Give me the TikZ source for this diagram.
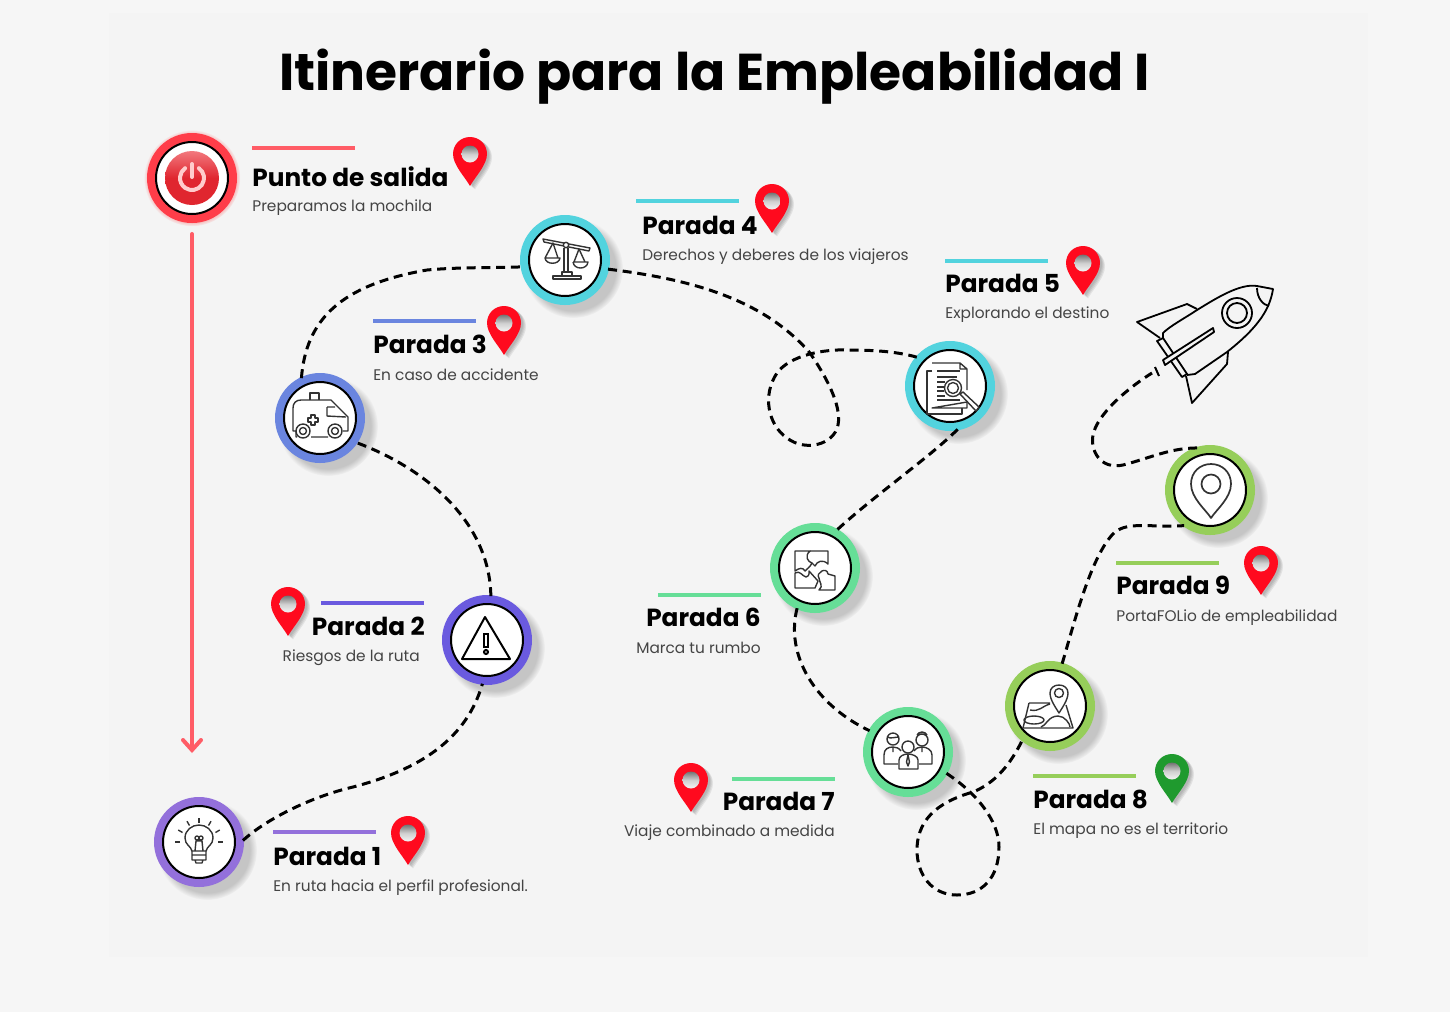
\documentclass[tikz,border=0pt]{standalone}
\usepackage{fontspec}
\setmainfont{Poppins}
\usetikzlibrary{arrows.meta,shadows}
\definecolor{panelgrey}{HTML}{F4F4F4}
\definecolor{pagegrey}{HTML}{F6F6F6}
\definecolor{startred}{HTML}{FF3D49}
\definecolor{arrowred}{HTML}{FF5C66}
\definecolor{discred}{HTML}{E0262F}
\definecolor{disclight}{HTML}{F2787E}
\definecolor{lilac}{HTML}{9370DB}
\definecolor{violet}{HTML}{6A5ADF}
\definecolor{steel}{HTML}{6A85DF}
\definecolor{turq}{HTML}{52D3DE}
\definecolor{mint}{HTML}{66DE97}
\definecolor{leaf}{HTML}{96CE5A}
\definecolor{pinred}{HTML}{FF0A1E}
\definecolor{pingreen}{HTML}{1F9A2E}
\definecolor{greytext}{HTML}{444444}
\definecolor{iconline}{HTML}{333333}
\tikzset{
  stopring/.style={
    circle,draw=black,line width=0.04cm,fill=white,
    minimum size=1.44cm,inner sep=0pt,outer sep=0.16cm,
    circular drop shadow={shadow xshift=0.12cm,shadow yshift=-0.12cm,shadow scale=1.38,opacity=0.4},
    preaction={draw=#1,line width=0.36cm}
  },
  startring/.style={
    circle,draw=black,line width=0.04cm,fill=white,
    minimum size=1.44cm,inner sep=0pt,outer sep=0.16cm,
    circular drop shadow={shadow xshift=0cm,shadow yshift=0cm,shadow scale=1.34,opacity=0.4,fill=red},
    preaction={draw=startred,line width=0.36cm}
  },
  route/.style={draw=black,line width=0.06cm,dash pattern=on 0.18cm off 0.115cm},
  stopbar/.style={draw=#1,line width=0.09cm},
  titletext/.style={font=\fontsize{29.5}{36}\selectfont\bfseries,inner sep=0pt,anchor=base},
  headtext/.style={font=\fontsize{14.1}{17}\selectfont\bfseries,inner sep=0pt},
  desctext/.style={font=\fontsize{8.75}{10}\selectfont,text=greytext,inner sep=0pt},
  icon/.style={draw=iconline,line width=0.028cm,line join=round},
  rocketline/.style={draw=black,line width=0.036cm,line join=round},
  pics/pin/.style={code={
    \foreach \s in {2,3,4,5}
      \fill[black,opacity=0.07,shift={(\s,\s*0.7)}] (0,0) .. controls (-5,-9) and (-17,-21) .. (-17,-32) .. controls (-17,-41.5) and (-9.5,-49) .. (0,-49) .. controls (9.5,-49) and (17,-41.5) .. (17,-32) .. controls (17,-21) and (5,-9) .. (0,0) -- cycle;
    \fill[#1] (0,0) .. controls (-5,-9) and (-17,-21) .. (-17,-32) .. controls (-17,-41.5) and (-9.5,-49) .. (0,-49) .. controls (9.5,-49) and (17,-41.5) .. (17,-32) .. controls (17,-21) and (5,-9) .. (0,0) -- cycle;
    \shade[top color=black!55,bottom color=panelgrey,middle color=panelgrey!85!black] (0,-32) circle[radius=8.5];
  }},
  pics/bulbicon/.style={code={
    \draw[icon] (-7,9) .. controls (-8,4) and (-14,3) .. (-14,-4) .. controls (-14,-12) and (-7,-17) .. (0,-17) .. controls (7,-17) and (14,-12) .. (14,-4) .. controls (14,3) and (8,4) .. (7,9) -- cycle;
    \draw[icon] (-7,9) -- (-7,18) -- (7,18) -- (7,9) (-7,13) -- (7,13) (-4,18) -- (-3,21) -- (3,21) -- (4,18);
    \draw[icon] (-4,9) -- (-3,-1) -- (3,-1) -- (4,9) (-2,-4) circle[radius=2] (2,-4) circle[radius=2];
    \foreach \a in {-90,-60,-120,-30,-150,0,180}
      \draw[icon] (\a:19) -- (\a:24);
  }},
  pics/warnicon/.style={code={
    \draw[draw=black,line width=0.04cm,line join=round] (-2,-23) -- (-25,19) -- (23,19) -- cycle;
    \draw[draw=black,line width=0.04cm] (-3,-6) rectangle (1,7);
    \draw[draw=black,line width=0.04cm] (-1,12) circle[radius=2];
  }},
  pics/ambulanceicon/.style={code={
    \draw[icon] (-10,-18) -- (-10,-25) -- (-1,-25) -- (-1,-18);
    \draw[icon] (-24,13) -- (-27,13) -- (-27,-10) .. controls (-27,-15) and (-24,-18) .. (-19,-18) -- (11,-18) -- (28,-1) -- (28,13) -- (23,13) (-9,19) -- (8,19);
    \draw[icon] (-24,13) -- (-24,19) -- (-23,19) (7,-11) -- (7,-2) -- (26,-1) (7,-11) -- (15,-11);
    \draw[icon] (-17,13) circle[radius=7] (-17,13) circle[radius=3.5] (15,13) circle[radius=7] (15,13) circle[radius=3.5];
    \draw[icon] (-9,-3) -- (-5,-3) -- (-5,0) -- (-2,0) -- (-2,4) -- (-5,4) -- (-5,7) -- (-9,7) -- (-9,4) -- (-12,4) -- (-12,0) -- (-9,0) -- cycle;
  }},
  pics/scalesicon/.style={code={
    \draw[icon] (-22,-21) -- (25,-12) -- (24,-9) -- (-21,-18) -- cycle;
    \draw[icon,fill=white] (1,-15) circle[radius=2.7];
    \draw[icon] (-1,-12) -- (-1,12) (3,-12) -- (3,12) (-3,16) -- (-3,12) -- (7,12) -- (7,16);
    \draw[icon] (-12,16) rectangle (16,19);
    \draw[icon] (-20,-2) -- (-12,-17) -- (-7,-2) (-20,-2) -- (-5,-2) .. controls (-6,5) and (-19,5) .. (-20,-2);
    \draw[icon] (9,2) -- (14,-11) -- (20,2) (8,2) -- (23,2) .. controls (22,10) and (9,10) .. (8,2);
  }},
  pics/docicon/.style={code={
    \draw[icon] (-18,-15) -- (-23,-15) -- (-23,28) -- (12,28) -- (12,22);
    \draw[icon] (-18,-23) -- (10,-23) -- (17,-17) -- (17,4) (17,16) -- (17,22) -- (-18,22) -- cycle (10,-23) -- (10,-17) -- (17,-17);
    \draw[icon] (-13,-15) -- (10,-15) (-13,-9) -- (7,-9) (-13,-4) -- (-5,-4) (-13,1) -- (-6,1) (-13,5) -- (-6,5) (-13,10) -- (-5,10) (-13,14) -- (10,14);
    \draw[icon] (3,2) circle[radius=8.5] (3,2) circle[radius=5.5];
    \draw[icon,fill=white] (10,8) -- (13,6) -- (29,21) -- (26,25) -- cycle;
  }},
  pics/puzzleicon/.style={code={
    \draw[icon] (-20,-17) -- (-5,-17) .. controls (-11,-12) and (-7,-6) .. (-3,-5) .. controls (-5,-1) and (-8,1) .. (-10,3) .. controls (-12,-1) and (-16,0) .. (-20,3) -- cycle;
    \draw[icon] (-5,-17) -- (13,-17) -- (13,-4) .. controls (8,-9) and (2,-7) .. (0,-2) .. controls (-1,-3) and (-2,-4) .. (-3,-5);
    \draw[icon] (-20,5) .. controls (-15,2) and (-13,8) .. (-9,9) .. controls (-5,8) and (-6,4) .. (-6,3) -- (3,13) -- (0,20) -- (-20,20) -- cycle;
    \draw[icon] (4,10) .. controls (0,5) and (12,-2) .. (13,6) -- (20,8) -- (20,22) -- (4,22) .. controls (9,18) and (4,14) .. (4,10) -- cycle;
  }},
  pics/peopleicon/.style={code={
    \draw[icon] (-15,-13) circle[radius=6] (-21,-15) .. controls (-17,-13) and (-13,-15) .. (-9,-15);
    \draw[icon] (-10,12) -- (-24,12) -- (-24,3) .. controls (-24,-3) and (-20,-5) .. (-15,-5) .. controls (-12,-5) and (-9,-4) .. (-7,-1) (-15,-5) -- (-15,0);
    \draw[icon] (14,-12) circle[radius=6] (9,-17) .. controls (11,-21) and (17,-21) .. (19,-17);
    \draw[icon] (11,12) -- (24,12) -- (24,3) .. controls (24,-2) and (19,-5) .. (14,-5) .. controls (11,-5) and (8,-4) .. (6,-1) (14,-5) -- (14,0);
    \draw[icon] (0,-5) circle[radius=6];
    \draw[icon] (-9,17) -- (-9,8) .. controls (-9,4) and (-4,2) .. (0,2) .. controls (4,2) and (10,4) .. (10,8) -- (10,17) -- cycle;
    \draw[icon] (0,3) -- (-1.5,10) -- (0,14) -- (1.5,10) -- cycle;
  }},
  pics/mapicon/.style={code={
    \draw[icon] (-21,-3) -- (-27,22) -- (23,22) -- (16,-1);
    \draw[icon] (-21,-3) -- (0,-3) (-20,4) .. controls (-10,6) and (-8,0) .. (0,-2);
    \draw[icon] (-16,14) ellipse[x radius=10,y radius=4];
    \draw[icon] (-9,21) .. controls (-4,20) and (-2,10) .. (8,10) .. controls (15,10) and (20,18) .. (20,21);
    \draw[icon,fill=white] (9,7) .. controls (6,2) and (0,-6) .. (0,-13) .. controls (0,-18) and (4,-21) .. (9,-21) .. controls (14,-21) and (18,-18) .. (18,-13) .. controls (18,-6) and (12,2) .. (9,7) -- cycle;
    \draw[icon] (9,-13) circle[radius=4.5];
  }},
  pics/locationicon/.style={code={
    \draw[icon,line width=0.034cm] (1,28) .. controls (-4,20) and (-19,8) .. (-19,-6) .. controls (-19,-18) and (-10,-26) .. (1,-26) .. controls (12,-26) and (21,-18) .. (21,-6) .. controls (21,8) and (6,20) .. (1,28) -- cycle;
    \draw[icon,line width=0.034cm] (1,-6) circle[radius=9.5];
  }},
  pics/powericon/.style={code={
    \shade[top color=disclight,bottom color=discred,middle color=discred] (0,0) circle[radius=27];
    \draw[draw=white!80!red,line width=0.08cm,line cap=round] (-55:12) arc[start angle=-55,end angle=235,radius=12];
    \draw[draw=white!80!red,line width=0.08cm,line cap=round] (0,-14) -- (0,-1);
  }},
  pics/rocketicon/.style={code={
    \draw[rocketline] (-13,-37) -- (-23,-42) -- (-73,-24) -- (-50,-8);
    \draw[rocketline] (-47,-8) -- (-47,-13) .. controls (-40,-20) and (-25,-28) .. (-13,-36) .. controls (5,-47) and (30,-63) .. (47,-60) -- (63,-57) .. controls (60,-38) and (50,-20) .. (17,6) -- (-15,28) -- (-23,29);
    \draw[rocketline] (-53,-5) -- (-47,-8) -- (-23,28) -- (-28,31) -- cycle;
    \draw[rocketline,fill=panelgrey] (-47,14) -- (3,-18) -- (4,-14) -- (-45,19) -- cycle;
    \draw[rocketline] (18,6) -- (17,18) -- (-18,57) -- (-24,30);
    \draw[rocketline] (47,-58) .. controls (47,-48) and (53,-41) .. (59,-40);
    \draw[rocketline] (27,-33) circle[radius=15] (27,-33) circle[radius=10];
  }}
}
\begin{document}
\begin{tikzpicture}[x=0.02cm,y=-0.02cm]
\useasboundingbox (0,0) rectangle (1450,1012);
\fill[pagegrey] (0,0) rectangle (1450,1012);
\fill[panelgrey] (109,13) rectangle (1368,957);
\node[titletext] (title) at (714.5,90) {Itinerario para la Empleabilidad I};

% stops on the road
\node[startring] (start) at (192,178) {};
\node[stopring=lilac] (stopa) at (199,842) {};
\node[stopring=violet] (stopb) at (487,640) {};
\node[stopring=steel] (stopc) at (320,418) {};
\node[stopring=turq] (stopd) at (565,260) {};
\node[stopring=turq] (stope) at (950,386) {};
\node[stopring=mint] (stopf) at (815,568) {};
\node[stopring=mint] (stopg) at (908,752) {};
\node[stopring=leaf] (stoph) at (1050,706) {};
\node[stopring=leaf] (stopi) at (1210,490) {};

% icons
\pic at (start) {powericon};
\pic at (stopa) {bulbicon};
\pic at (stopb) {warnicon};
\pic at (stopc) {ambulanceicon};
\pic at (stopd) {scalesicon};
\pic at (stope) {docicon};
\pic at (stopf) {puzzleicon};
\pic at (stopg) {peopleicon};
\pic at (stoph) {mapicon};
\pic at (stopi) {locationicon};
\pic at (1210,346) {rocketicon};
\coordinate (rockettail) at (1152,373);
\coordinate (arrowend) at (192,753);

% road
\draw[arrowred,line width=0.08cm,line cap=round,shorten <=0.24cm,-{Straight Barb[length=0.2cm,width=0.36cm,line cap=round]}] (start.south) -- (arrowend);
\draw[route] (stopa.2) .. controls (265,820) and (310,797) .. (353,787) .. controls (410,772) and (465,745) .. (stopb.-96);
\draw[route] (stopb.85) .. controls (490,525) and (430,470) .. (stopc.-34);
\draw[route] (stopc.115) .. controls (306,320) and (340,285) .. (427,270) .. controls (460,267) and (490,268) .. (stopd.189);
\draw[route] (stopd.-12) .. controls (680,278) and (760,295) .. (810,353) .. controls (825,375) and (842,405) .. (838,425) .. controls (834,445) and (805,452) .. (787,438) .. controls (768,425) and (762,395) .. (777,373) .. controls (790,355) and (825,349) .. (847,350) .. controls (870,350) and (895,351) .. (stope.139);
\draw[route] (stope.-80) .. controls (930,457) and (875,495) .. (stopf.60);
\draw[route] (stopf.-114) .. controls (785,655) and (815,705) .. (stopg.151);
\draw[route] (stopg.-29) .. controls (975,792) and (999,820) .. (999,847) .. controls (999,878) and (982,895) .. (957,895) .. controls (932,895) and (917,875) .. (917,850) .. controls (917,815) and (945,800) .. (973,792) .. controls (995,783) and (1010,765) .. (stoph.-129);
\draw[route] (stoph.74) .. controls (1075,620) and (1090,560) .. (1112,535) .. controls (1125,520) and (1150,528) .. (stopi.-126);
\draw[route] (stopi.107) .. controls (1170,448) and (1150,458) .. (1123,465) .. controls (1100,470) and (1090,450) .. (1093,435) .. controls (1097,415) and (1125,390) .. (rockettail);
\draw[black,line width=0.04cm] (1155,367) -- (1159,376);

% bars
\draw[stopbar=arrowred] (252,148) -- ++(103,0);
\draw[stopbar=lilac] (273,832) -- ++(103,0);
\draw[stopbar=violet] (321,603) -- ++(103,0);
\draw[stopbar=steel] (373,321) -- ++(103,0);
\draw[stopbar=turq] (636,201) -- ++(103,0);
\draw[stopbar=turq] (945,261) -- ++(103,0);
\draw[stopbar=mint] (658,595) -- ++(103,0);
\draw[stopbar=mint] (732,779) -- ++(103,0);
\draw[stopbar=leaf] (1033,776) -- ++(103,0);
\draw[stopbar=leaf] (1116,563) -- ++(103,0);

% pins
\pic at (470,186) {pin=pinred};
\pic at (408,865) {pin=pinred};
\pic at (288,636) {pin=pinred};
\pic at (504,355) {pin=pinred};
\pic at (772,233) {pin=pinred};
\pic at (1083,295) {pin=pinred};
\pic at (691,812) {pin=pinred};
\pic at (1172,803) {pin=pingreen};
\pic at (1261,595) {pin=pinred};

% texts
\node[headtext,anchor=base west] (heads) at (252,186) {Punto de salida};
\node[desctext,anchor=base west] (descs) at (252,211) {Preparamos la mochila};
\node[headtext,anchor=base west] (heada) at (273,865) {Parada 1};
\node[desctext,anchor=base west] (desca) at (273,891) {En ruta hacia el perfil profesional.};
\node[headtext,anchor=base east] (headb) at (425,635) {Parada 2};
\node[desctext,anchor=base east] (descb) at (420,661) {Riesgos de la ruta};
\node[headtext,anchor=base west] (headc) at (373,353) {Parada 3};
\node[desctext,anchor=base west] (descc) at (373,380) {En caso de accidente};
\node[headtext,anchor=base west] (headd) at (642,234) {Parada 4};
\node[desctext,anchor=base west] (descd) at (642,260) {Derechos y deberes de los viajeros};
\node[headtext,anchor=base west] (heade) at (945,292) {Parada 5};
\node[desctext,anchor=base west] (desce) at (945,318) {Explorando el destino};
\node[headtext,anchor=base east] (headf) at (761,626) {Parada 6};
\node[desctext,anchor=base east] (descf) at (761,653) {Marca tu rumbo};
\node[headtext,anchor=base east] (headg) at (835,810) {Parada 7};
\node[desctext,anchor=base east] (descg) at (835,836) {Viaje combinado a medida};
\node[headtext,anchor=base west] (headh) at (1033,808) {Parada 8};
\node[desctext,anchor=base west] (desch) at (1033,834) {El mapa no es el territorio};
\node[headtext,anchor=base west] (headi) at (1116,594) {Parada 9};
\node[desctext,anchor=base west] (desci) at (1116,621) {PortaFOLio de empleabilidad};
\end{tikzpicture}
\end{document}
